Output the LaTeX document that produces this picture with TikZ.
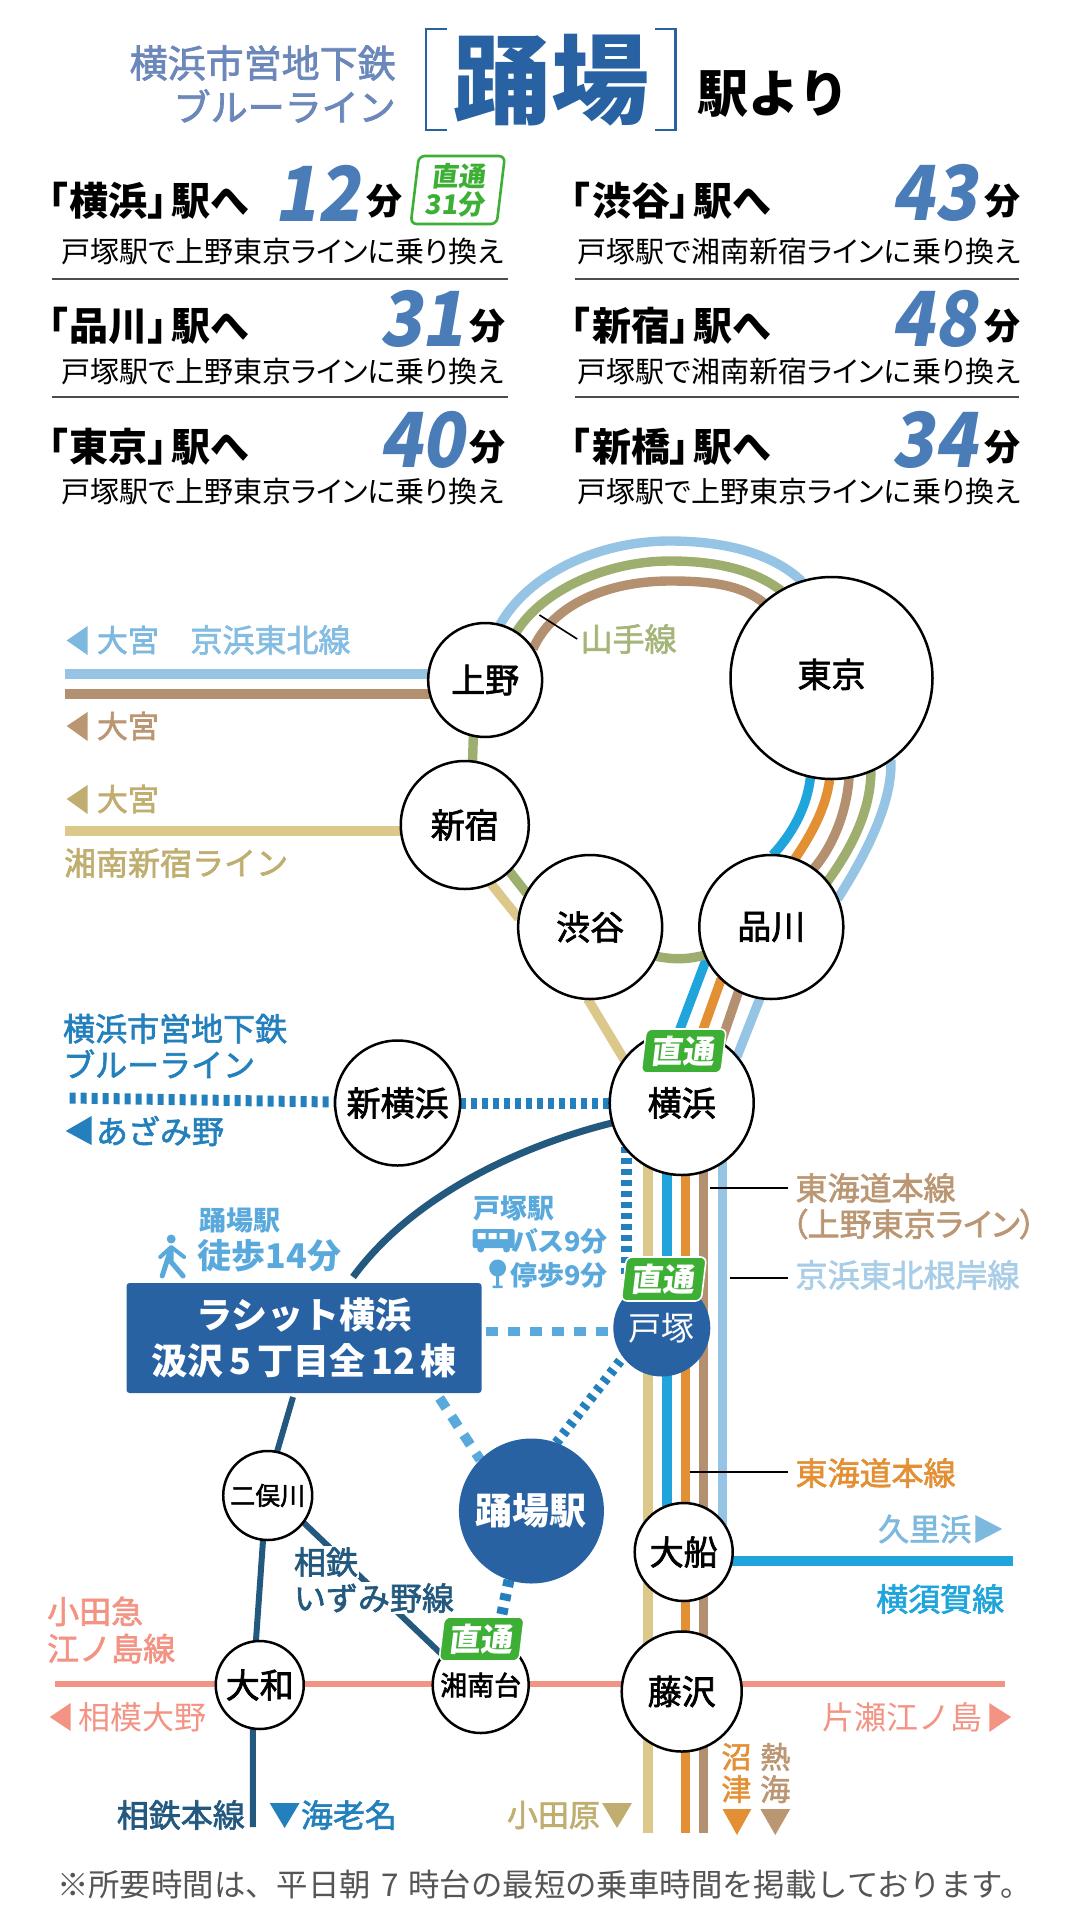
\documentclass[tikz,border=0pt]{standalone}
\usepackage{fontspec}
\usepackage{xcolor}
\usetikzlibrary{backgrounds}
\usetikzlibrary{positioning}
\setmainfont{Noto Sans CJK JP}
\newfontfamily\paltfont[RawFeature=+palt]{Noto Sans CJK JP}
\newfontfamily\medfont[FakeBold=2]{Noto Sans CJK JP}
\newfontfamily\medpalt[FakeBold=2,RawFeature=+palt]{Noto Sans CJK JP}
\newfontfamily\numfont[FakeSlant=0.17,FakeStretch=0.92]{Noto Sans CJK JP}
\newcommand{\fs}[2][1.16]{\fontsize{#2}{\the\dimexpr#1\dimexpr#2pt\relax\relax}\selectfont}

\definecolor{col_title}{HTML}{6C87BA}
\definecolor{col_number}{HTML}{4A7CB8}
\definecolor{col_box}{HTML}{2862A2}
\definecolor{col_green}{HTML}{3DAF35}
\definecolor{col_keihin}{HTML}{96C4E4}
\definecolor{col_yamanote}{HTML}{9DAE6E}
\definecolor{col_ueno}{HTML}{B39070}
\definecolor{col_tokaido}{HTML}{E38F34}
\definecolor{col_yokosuka}{HTML}{1FA4DC}
\definecolor{col_shonan}{HTML}{DCC88A}
\definecolor{col_subway}{HTML}{2380BC}
\definecolor{col_walk}{HTML}{59A9DC}
\definecolor{col_sotetsu}{HTML}{23587F}
\definecolor{col_odakyu}{HTML}{F39384}
\definecolor{txt_ueno}{HTML}{BB9673}
\definecolor{txt_shonan}{HTML}{BFAE70}
\definecolor{txt_yamanote}{HTML}{A5B57A}
\definecolor{txt_keihin}{HTML}{84BCE2}
\definecolor{txt_negishi}{HTML}{A9CDE6}
\definecolor{txt_kurihama}{HTML}{7DB8DF}
\definecolor{txt_note}{HTML}{555555}

\tikzset{
    station/.style={circle, draw, fill=white, line width=1.25pt, inner sep=0pt, outer sep=0pt, font=\medfont\fs{17}},
    dest_text/.style={anchor=west, inner sep=0pt, font=\paltfont\fs{19.5}\bfseries},
    time_text/.style={anchor=east, inner sep=0pt, text=col_number, font=\numfont\fs{38}\bfseries},
    unit_text/.style={inner sep=0pt, font=\fs{18}\bfseries},
    note_text/.style={inner sep=0pt, font=\paltfont\fs{14.5}},
    rule_line/.style={line width=0.6pt, draw=black!70},
    badge/.style={transform shape, xslant=0.12, rounded corners=3pt, fill=col_green, draw=white, line width=0.8pt, text=white, minimum width=40pt, minimum height=22pt, inner sep=0pt, font=\fs{16}\bfseries},
    rail/.style={line width=4.7pt},
    thin_rail/.style={line width=3pt, draw=col_sotetsu},
    near_dots/.style={line width=5.5pt, draw=col_subway, dash pattern=on 3pt off 2.5pt},
    far_dashes/.style={line width=5pt, draw=col_walk, dash pattern=on 6pt off 5pt},
    leader/.style={line width=0.8pt},
    rail_label/.style={anchor=west, inner sep=0pt, font=\medfont\fs{16}},
    plain_label/.style={anchor=west, inner sep=0pt, font=\medfont\fs{15.5}},
}

\begin{document}
\begin{tikzpicture}[x=0.4976pt, y=-0.5pt]
    \useasboundingbox (0,0) rectangle (1088.4,1920);

    % heading
    \node[anchor=east, inner sep=0pt, text=col_title, font=\medfont\fs{19}] (head_line) at (398,63) {横浜市営地下鉄};
    \node[anchor=east, inner sep=0pt, text=col_title, font=\medfont\fs{18.5}] (head_blue) at (398,106) {ブルーライン};
    \draw[col_box, line width=1.3pt] (449,29) -- (428,29) -- (428,130) -- (449,130);
    \draw[col_box, line width=1.3pt] (658,29) -- (679,29) -- (679,130) -- (658,130);
    \node[text=col_box, font=\fs{49}\bfseries] (head_station) at (554,80) {踊場};
    \node[anchor=west, inner sep=0pt, font=\fs{25.5}\bfseries] (head_from) at (700,94) {駅より};

    % travel times
    \node[dest_text] (dest_yokohama) at (48,201) {「\kern1pt 横浜」\kern2pt 駅へ};
    \node[dest_text] (dest_shinagawa) at (48,326) {「\kern1pt 品川」\kern2pt 駅へ};
    \node[dest_text] (dest_tokyo) at (48,447) {「\kern1pt 東京」\kern2pt 駅へ};
    \node[dest_text] (dest_shibuya) at (573,201) {「\kern1pt 渋谷」\kern2pt 駅へ};
    \node[dest_text] (dest_shinjuku) at (573,326) {「\kern1pt 新宿」\kern2pt 駅へ};
    \node[dest_text] (dest_shinbashi) at (573,447) {「\kern1pt 新橋」\kern2pt 駅へ};

    \node[time_text] (time_yokohama) at (362,193) {12};
    \node[time_text] (time_shinagawa) at (467,319) {31};
    \node[time_text] (time_tokyo) at (467,440) {40};
    \node[time_text] (time_shibuya) at (982,193) {43};
    \node[time_text] (time_shinjuku) at (982,319) {48};
    \node[time_text] (time_shinbashi) at (982,440) {34};

    \node[unit_text] (unit_yokohama) at (386,201) {分};
    \node[unit_text] (unit_shinagawa) at (490,326) {分};
    \node[unit_text] (unit_tokyo) at (490,447) {分};
    \node[unit_text] (unit_shibuya) at (1007,201) {分};
    \node[unit_text] (unit_shinjuku) at (1007,326) {分};
    \node[unit_text] (unit_shinbashi) at (1007,447) {分};

    \node[note_text] (note_yokohama) at (284,252) {戸塚駅で上野東京ラインに乗り換え};
    \node[note_text] (note_shinagawa) at (284,372) {戸塚駅で上野東京ラインに乗り換え};
    \node[note_text] (note_tokyo) at (284,492) {戸塚駅で上野東京ラインに乗り換え};
    \node[note_text] (note_shibuya) at (803,252) {戸塚駅で湘南新宿ラインに乗り換え};
    \node[note_text] (note_shinjuku) at (803,372) {戸塚駅で湘南新宿ラインに乗り換え};
    \node[note_text] (note_shinbashi) at (803,492) {戸塚駅で上野東京ラインに乗り換え};

    \draw[rule_line] (52,279) -- (510,279);
    \draw[rule_line] (52,397) -- (510,397);
    \draw[rule_line] (578,279) -- (1024,279);
    \draw[rule_line] (578,397) -- (1024,397);

    \node[transform shape, xslant=0.12, rounded corners=3pt, draw=col_green, fill=white, line width=1.3pt, text=col_green, align=center, minimum width=43pt, minimum height=34pt, inner sep=0pt, font={\fs[1.05]{13.5}\bfseries}] (badge_time) at (460,190) {直通\\31分};

    % stations
    \node[station, minimum size=57pt] (ueno) at (487.5,680) {\raisebox{1pt}{上野}};
    \node[station, minimum size=101pt] (tokyo) at (835.5,678) {\raisebox{5pt}{東京}};
    \node[station, minimum size=64pt] (shinjuku) at (467,825) {新宿};
    \node[station, minimum size=72pt] (shibuya) at (593,927) {渋谷};
    \node[station, minimum size=72pt] (shinagawa) at (775,927) {品川};
    \node[station, minimum size=62.5pt] (shinyokohama) at (399.5,1103) {新横浜};
    \node[station, minimum size=72pt] (yokohama) at (685,1103) {横浜};
    \node[station, minimum size=44.5pt, font=\medfont\fs{12.5}] (futamatagawa) at (269,1495.5) {二俣川};
    \node[station, minimum size=44pt] (yamato) at (261,1685) {大和};
    \node[station, minimum size=48pt, font=\medfont\fs{13.5}] (shonandai) at (483,1685) {湘南台};
    \node[station, minimum size=60pt] (fujisawa) at (685,1691.5) {藤沢};
    \node[station, minimum size=49pt] (ofuna) at (687,1552) {大船};
    \node[circle, fill=col_box, minimum size=48.5pt, inner sep=0pt, outer sep=0pt, text=white, font=\fs{16.5}] (totsuka) at (665,1328) {\raisebox{1pt}{戸塚}};
    \node[circle, fill=col_box, minimum size=72.5pt, inner sep=0pt, outer sep=0pt, text=white, font=\fs{18.5}\bfseries] (odoriba) at (534,1511) {踊場駅};

    \node[fill=col_box, rounded corners=1.5pt, minimum width=177.5pt, minimum height=55pt, align=center, text=white, inner sep=0pt, outer sep=0pt, font={\fs[1.26]{18}\bfseries}] (lasit) at (305.5,1338) {\raisebox{1.5pt}{ラシット横浜}\\\raisebox{1.5pt}{汲沢\hspace{3pt}5\hspace{3pt}丁目全\hspace{3pt}12\hspace{3pt}棟}};

    \node[badge] (badge_yokohama) at (687,1051) {直通};
    \node[badge] (badge_totsuka) at (667,1279) {直通};
    \node[badge] (badge_shonandai) at (484,1639) {直通};

    \coordinate (lane_subway) at (630,0);
    \coordinate (lane_shonan) at (651,0);
    \coordinate (lane_yokosuka) at (670,0);
    \coordinate (lane_tokaido) at (689,0);
    \coordinate (lane_ueno) at (707,0);
    \coordinate (lane_keihin) at (726,0);
    \coordinate (lane_end) at (0,1833);
    \coordinate (keihin_west) at (65,674);
    \coordinate (ueno_west) at (65,694);
    \coordinate (shonan_west) at (65,831);
    \coordinate (subway_west) at (70,1098);
    \coordinate (kurihama_east) at (1018,1561);
    \coordinate (odakyu_west) at (55.5,1684);
    \coordinate (odakyu_east) at (1010,1684);
    \coordinate (sotetsu_end) at (254,1827);

    \begin{pgfonlayer}{background}
        % loop over the top
        \draw[rail, col_keihin] (keihin_west) -- (keihin_west -| ueno.center);
        \draw[rail, col_ueno] (ueno_west) -- (ueno_west -| ueno.center);
        \draw[rail, col_keihin] (ueno.75) .. controls (530,575) and (600,541) .. (673,541) .. controls (725,541) and (775,552) .. (tokyo.107);
        \draw[rail, col_yamanote] (ueno.57) .. controls (545,590) and (610,561) .. (673,561) .. controls (715,561) and (755,568) .. (tokyo.120);
        \draw[rail, col_ueno] (ueno.33) .. controls (555,605) and (610,581) .. (673,581) .. controls (715,581) and (745,585) .. (tokyo.132);

        % tokyo to shinagawa
        \draw[rail, col_keihin] (tokyo.-54) .. controls (897,800) and (873,850) .. (shinagawa.23);
        \draw[rail, col_yamanote] (tokyo.-67) .. controls (875,810) and (856,848) .. (shinagawa.39);
        \draw[rail, col_ueno] (tokyo.-80) .. controls (851,810) and (838,845) .. (shinagawa.54);
        \draw[rail, col_tokaido] (tokyo.-91) .. controls (830,808) and (815,835) .. (shinagawa.71);
        \draw[rail, col_yokosuka] (tokyo.-102) .. controls (811,808) and (795,835) .. (shinagawa.89);

        % shinagawa to yokohama
        \draw[rail, col_keihin] (shinagawa.-99) -- (yokohama.40);
        \draw[rail, col_ueno] (shinagawa.-117) -- (yokohama.57);
        \draw[rail, col_tokaido] (shinagawa.-134) -- (yokohama.74);
        \draw[rail, col_yokosuka] (shinagawa.-154) -- (yokohama.92);

        % yamanote, shonan
        \draw[rail, col_yamanote] (shibuya.-24) to[bend right=12] (shinagawa.-157);
        \draw[rail, col_yamanote] (shinjuku.-46) -- (shibuya.152);
        \draw[rail, col_yamanote] (shinjuku.83) -- (ueno.-102);
        \draw[rail, col_shonan] (shonan_west) -- (shonan_west -| shinjuku.center);
        \draw[rail, col_shonan] (shinjuku.-66) -- (shibuya.173);
        \draw[rail, col_shonan] (shibuya.-92) -- (yokohama.143);

        % tracks going south
        \draw[rail, col_shonan] (lane_shonan |- yokohama.center) -- (lane_shonan |- lane_end);
        \draw[rail, col_tokaido] (lane_tokaido |- yokohama.center) -- (lane_tokaido |- lane_end);
        \draw[rail, col_ueno] (lane_ueno |- yokohama.center) -- (lane_ueno |- lane_end);
        \draw[rail, col_yokosuka] (lane_yokosuka |- yokohama.center) -- (lane_yokosuka |- ofuna.center);
        \draw[rail, col_keihin] (lane_keihin |- yokohama.center) -- (lane_keihin |- ofuna.center);
        \draw[rail, col_yokosuka] (kurihama_east) -- (kurihama_east -| ofuna.center);
        \draw[line width=3.3pt, col_odakyu] (odakyu_west) -- (odakyu_east);

        % sotetsu
        \draw[thin_rail, line width=3.5pt] (yokohama.196) .. controls (525,1145) and (415,1195) .. ([xshift=24.5pt, yshift=3pt]lasit.north);
        \draw[thin_rail] ([xshift=-5.5pt, yshift=-2pt]lasit.south) -- (futamatagawa.78);
        \draw[thin_rail] (futamatagawa.-96) -- (yamato.95);
        \draw[thin_rail] (yamato.-99) -- (sotetsu_end);
        \draw[thin_rail] (futamatagawa.-37) -- (shonandai.142);

        % subway and walking
        \draw[near_dots] (subway_west) -- (shinyokohama);
        \draw[near_dots] (shinyokohama) -- (yokohama);
        \draw[near_dots] (lane_subway |- yokohama.center) -- (lane_subway |- badge_totsuka.center);
        \draw[near_dots, line width=5pt, dash pattern=on 2.5pt off 3pt] (odoriba.70) -- (totsuka.-143);
        \draw[near_dots, dash pattern=on 3.5pt off 3.5pt] (odoriba.-108) -- ([xshift=8.5pt]badge_shonandai.north);
        \draw[far_dashes, line width=4.5pt] ([xshift=2pt, yshift=3.5pt]lasit.east) -- ([yshift=3.5pt]lasit.east -| totsuka.center);
        \draw[far_dashes] ([xshift=-21pt, yshift=-2.5pt]lasit.south east) -- (odoriba.135);
    \end{pgfonlayer}

    % line names
    \fill[txt_kurihama] (67,640.5) -- (88,626) -- (88,655) -- cycle;
    \node[plain_label, text=txt_kurihama] (to_omiya_keihin) at (97,640) {大宮};
    \node[rail_label, text=txt_keihin] (lbl_keihin) at (191,640) {京浜東北線};
    \fill[txt_ueno] (67,726) -- (88,712) -- (88,741) -- cycle;
    \node[plain_label, text=txt_ueno] (to_omiya_ueno) at (97,726) {大宮};
    \fill[txt_shonan] (67,799) -- (88,785) -- (88,814) -- cycle;
    \node[plain_label, text=txt_shonan] (to_omiya_shonan) at (97,799) {大宮};
    \node[rail_label, text=txt_shonan] (lbl_shonan) at (64,863) {湘南新宿ライン};
    \node[rail_label, text=txt_yamanote] (lbl_yamanote) at (583,639) {山手線};
    \coordinate (lead_yamanote) at (542,615);
    \draw[leader] (lead_yamanote) -- ([xshift=-1.5pt]lbl_yamanote.west);

    \node[rail_label, text=col_subway, align=left, font={\medfont\fs[1.13]{16}}] (lbl_subway) at (63,1046) {横浜市営地下鉄\\ブルーライン};
    \fill[col_subway] (66,1131) -- (92,1116) -- (92,1145) -- cycle;
    \node[rail_label, text=col_subway] (to_azamino) at (96,1131) {あざみ野};

    \node[rail_label, text=txt_ueno] (lbl_ueno) at (799,1188) {東海道本線};
    \node[rail_label, text=txt_ueno, font=\medpalt\fs{16}] (lbl_ueno_sub) at (795,1224) {（上野東京ライン）};
    \node[rail_label, text=txt_negishi] (lbl_negishi) at (799,1275) {京浜東北根岸線};
    \node[rail_label, text=col_tokaido] (lbl_tokaido) at (799,1473) {東海道本線};
    \coordinate (lead_ueno) at (713,1188);
    \coordinate (lead_negishi) at (733,1278);
    \coordinate (lead_tokaido) at (693,1472);
    \draw[leader] (lead_ueno) -- ([xshift=-3.5pt]lead_ueno -| lbl_ueno.west);
    \draw[leader] (lead_negishi) -- ([xshift=-3.5pt]lead_negishi -| lbl_negishi.west);
    \draw[leader] (lead_tokaido) -- ([xshift=-3.5pt]lead_tokaido -| lbl_tokaido.west);

    \node[plain_label, text=txt_kurihama] (to_kurihama) at (882,1529) {久里浜};
    \fill[txt_kurihama] (980,1515) -- (1007,1529) -- (980,1543) -- cycle;
    \node[rail_label, text=col_yokosuka] (lbl_yokosuka) at (880,1599) {横須賀線};

    \node[rail_label, text=col_odakyu, align=left, font={\medfont\fs[1.16]{16}}] (lbl_odakyu) at (47,1630) {小田急\\江ノ島線};
    \fill[col_odakyu] (50,1717) -- (71,1703) -- (71,1731) -- cycle;
    \node[plain_label, text=col_odakyu, font=\fs{16}] (to_sagamiono) at (78,1717) {相模大野};
    \node[plain_label, text=col_odakyu, font=\fs{16}] (to_katase) at (826,1717) {片瀬江ノ島};
    \fill[col_odakyu] (994,1703) -- (1016,1717) -- (994,1732) -- cycle;

    \node[rail_label, anchor=center, text=col_tokaido, align=center, font={\medfont\fs[1.08]{15}}] (to_numazu) at (740,1773) {沼\\津};
    \node[rail_label, anchor=center, text=txt_ueno, align=center, font={\medfont\fs[1.08]{15}}] (to_atami) at (779,1773) {熱\\海};
    \fill[col_tokaido] (726,1809) -- (755,1809) -- (740.5,1835) -- cycle;
    \fill[txt_ueno] (764,1809) -- (794,1809) -- (779,1835) -- cycle;
    \node[plain_label, text=txt_shonan] (to_odawara) at (509,1815) {小田原};
    \fill[txt_shonan] (605,1803) -- (635,1803) -- (620,1828) -- cycle;
    \node[rail_label, text=col_sotetsu] (lbl_sotetsu) at (117,1815) {相鉄本線};
    \fill[col_subway] (271,1803) -- (301,1803) -- (286,1828) -- cycle;
    \node[rail_label, text=col_subway] (to_ebina) at (302,1815) {海老名};

    \node[rail_label, text=col_sotetsu, fill=white, inner sep=0.5pt] (lbl_izumi_a) at (294,1562) {相鉄};
    \node[rail_label, text=col_sotetsu, fill=white, inner sep=0.5pt] (lbl_izumi_b) at (294,1598) {いずみ野線};

    % access
    \node[inner sep=0pt, text=col_walk, font=\fs{13.5}\bfseries] (walk_from) at (241,1220) {踊場駅};
    \node[inner sep=0pt, text=col_walk, font=\fs{17}\bfseries] (walk_time) at (271,1256) {徒歩14分};
    \fill[col_walk] (172,1239) circle (4.5);
    \draw[col_walk, line width=2pt, line cap=round, line join=round] (161,1257) -- (172,1247) -- (185,1257);
    \draw[col_walk, line width=2.5pt, line cap=round, line join=round] (163,1276) -- (172,1248) -- (172,1262) -- (184,1276);

    \node[anchor=west, text=col_walk, inner sep=0pt, font=\fs{13.5}\bfseries] (bus_from) at (475,1208) {戸塚駅};
    \node[anchor=east, text=col_walk, inner sep=0pt, font=\paltfont\fs{13.5}\bfseries] (bus_time) at (611,1241) {バス9分};
    \node[anchor=east, text=col_walk, inner sep=0pt, font=\paltfont\fs{13.5}\bfseries] (stop_time) at (611,1275) {停歩9分};
    \fill[col_walk, rounded corners=1pt] (475,1229) rectangle (517,1248);
    \fill[white] (480,1233) rectangle (488,1239) (491,1233) rectangle (499,1239) (502,1233) rectangle (510,1239);
    \fill[col_walk] (483,1249) circle (3.5) (509,1249) circle (3.5);
    \fill[col_walk] (500,1268) circle (8.5);
    \fill[col_walk] (498.5,1276) rectangle (501.5,1287) (495,1285.5) rectangle (505,1288);

    \node[inner sep=0pt, text=txt_note, font=\fs{15.7}] (footnote) at (547,1885) {※所要時間は、平日朝\hspace{5pt}7\hspace{5pt}時台の最短の乗車時間を掲載しております。};
\end{tikzpicture}
\end{document}
